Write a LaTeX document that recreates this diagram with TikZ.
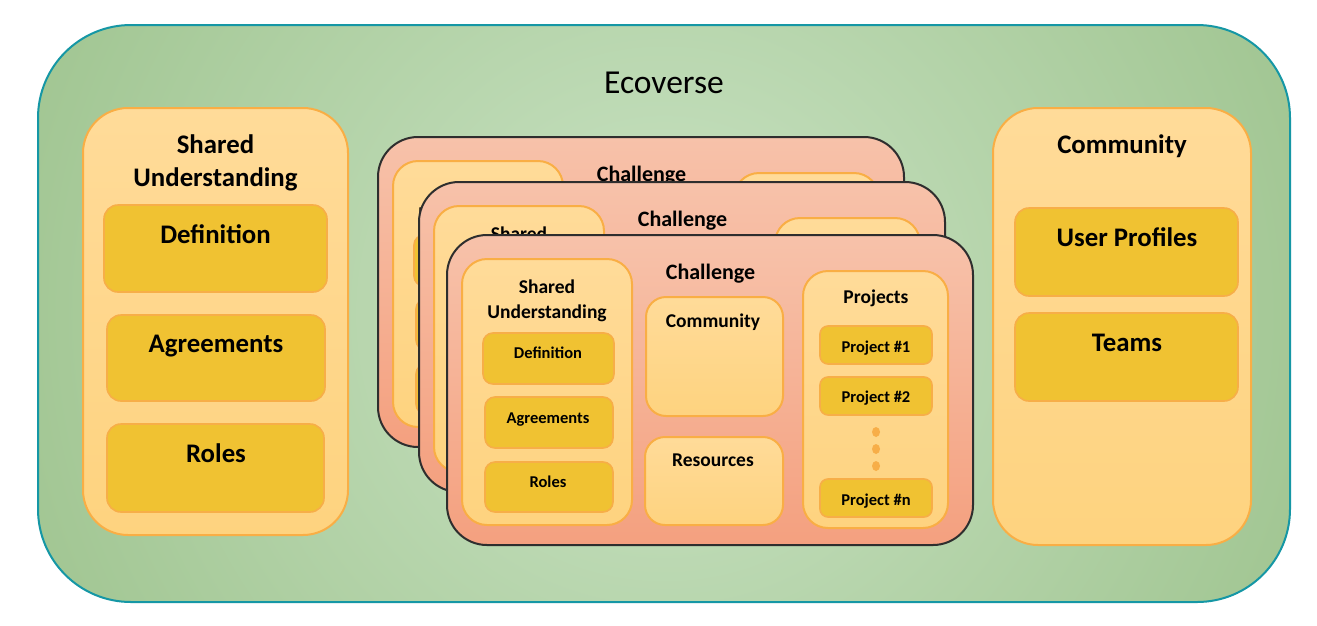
\documentclass[tikz,border=0pt]{standalone}
\usepackage{fontspec}
\setmainfont{Carlito}
\definecolor{ecoin}{HTML}{CAE3C4}
\definecolor{ecoout}{HTML}{8EB87B}
\definecolor{ecoline}{HTML}{1597A5}
\definecolor{cardtop}{HTML}{F7C2AA}
\definecolor{cardbot}{HTML}{F4A07F}
\definecolor{cardline}{HTML}{2E2E2E}
\definecolor{paneltop}{HTML}{FFDB99}
\definecolor{panelbot}{HTML}{FED37F}
\definecolor{panelline}{HTML}{F9AE45}
\definecolor{gold}{HTML}{F0C232}
\definecolor{goldline}{HTML}{F7AE48}
\tikzset{
  base/.style={inner sep=0pt, outer sep=0pt, anchor=north west},
  ecobox/.style={base, draw=ecoline, line width=2pt, rounded corners=93pt,
    path picture={\shade[inner color=ecoin, outer color=ecoout]
      (path picture bounding box.center) circle (1000pt);}},
  bigpanel/.style={base, draw=panelline, line width=2pt, rounded corners=45pt,
    top color=paneltop, bottom color=panelbot},
  bigitem/.style={base, draw=goldline, line width=1.6pt, rounded corners=14pt, fill=gold},
  cardbox/.style={base, draw=cardline, line width=2pt, rounded corners=40pt,
    top color=cardtop, bottom color=cardbot},
  subpanel/.style={base, draw=panelline, line width=2pt, rounded corners=#1,
    top color=paneltop, bottom color=panelbot},
  subpanel/.default=25pt,
  smallitem/.style={base, draw=goldline, line width=1.6pt, rounded corners=#1, fill=gold},
  smallitem/.default=10pt,
  ecotxt/.style={anchor=base, inner sep=0pt, font=\fontsize{33.5}{40}\selectfont},
  bigtxt/.style={anchor=base, inner sep=0pt, align=center, font=\bfseries\fontsize{26.8}{33}\selectfont},
  cardtxt/.style={anchor=base, inner sep=0pt, font=\bfseries\fontsize{22}{26}\selectfont},
  subtxt/.style={anchor=base, inner sep=0pt, align=center, font=\bfseries\fontsize{19.5}{25}\selectfont},
  smalltxt/.style={anchor=base, inner sep=0pt, font=\bfseries\fontsize{16.5}{20}\selectfont},
}
\newcommand{\rbox}[6]{\node[#2, minimum width={(#5-#3)*1pt}, minimum height={(#6-#4)*1pt}] (#1) at (#3,#4) {};}
\newcommand{\challengecard}[3]{%
  \begin{scope}[shift={(#2,#3)}]
    \rbox{#1card}{cardbox}{0}{0}{526}{310}
    \node[cardtxt] (#1title) at (263.5,44) {Challenge};
    \rbox{#1su}{subpanel}{15}{24}{185}{290}
    \node[subtxt] (#1sutxt) at (100,83) {Shared\\Understanding};
    \rbox{#1def}{smallitem}{36}{98}{167}{149}
    \node[smalltxt] (#1deftxt) at (101,123) {Definition};
    \rbox{#1agr}{smallitem}{38}{162}{166}{213}
    \node[smalltxt] (#1agrtxt) at (101,188) {Agreements};
    \rbox{#1rol}{smallitem}{38}{227}{166}{277}
    \node[smalltxt] (#1roltxt) at (101,252) {Roles};
    \rbox{#1com}{subpanel=20pt}{199}{62}{336}{181}
    \node[subtxt] (#1comtxt) at (266,92) {Community};
    \rbox{#1res}{subpanel=20pt}{198}{202}{336}{290}
    \node[subtxt] (#1restxt) at (266,231) {Resources};
    \rbox{#1prj}{subpanel}{356}{36}{501}{293}
    \node[subtxt] (#1prjtxt) at (429,68) {Projects};
    \rbox{#1pa}{smallitem=8pt}{373}{91}{485}{129}
    \node[smalltxt] (#1patxt) at (429,117) {Project \#1};
    \rbox{#1pb}{smallitem=8pt}{373}{142}{485}{180}
    \node[smalltxt] (#1pbtxt) at (429,167) {Project \#2};
    \fill[goldline] (429,197) ellipse (4pt and 5pt);
    \fill[goldline] (429,214) ellipse (4pt and 5pt);
    \fill[goldline] (429,231) ellipse (4pt and 5pt);
    \rbox{#1pn}{smallitem=8pt}{373}{244}{485}{282}
    \node[smalltxt] (#1pntxt) at (429,270) {Project \#n};
  \end{scope}}
\begin{document}
\begin{tikzpicture}[x=1pt, y=-1pt]
  \useasboundingbox (0,0) rectangle (1317,625);
  \fill[white] (0,0) rectangle (1317,625);
  % outer ecoverse
  \rbox{eco}{ecobox}{38}{25}{1290}{602}
  \node[ecotxt] (ecotxt) at (664,93) {Ecoverse};
  % left panel
  \rbox{su}{bigpanel}{83}{108}{348}{535}
  \node[bigtxt] (sutxt) at (215.5,186) {Shared\\Understanding};
  \rbox{def}{bigitem}{104}{205}{327}{292}
  \node[bigtxt] (deftxt) at (215.5,243) {Definition};
  \rbox{agr}{bigitem}{107}{315}{325}{401}
  \node[bigtxt] (agrtxt) at (216,352) {Agreements};
  \rbox{rol}{bigitem}{107}{424}{324}{512}
  \node[bigtxt] (roltxt) at (216,462) {Roles};
  % right panel
  \rbox{com}{bigpanel}{993}{108}{1251}{545}
  \node[bigtxt] (comtxt) at (1122,153) {Community};
  \rbox{usr}{bigitem}{1015}{208}{1238}{296}
  \node[bigtxt] (usrtxt) at (1127,246) {User Profiles};
  \rbox{tea}{bigitem}{1015}{313}{1238}{401}
  \node[bigtxt] (teatxt) at (1127,351) {Teams};
  % stacked challenges
  \challengecard{ca}{378}{137}
  \challengecard{cb}{419}{182}
  \challengecard{cc}{447}{235}
\end{tikzpicture}
\end{document}
